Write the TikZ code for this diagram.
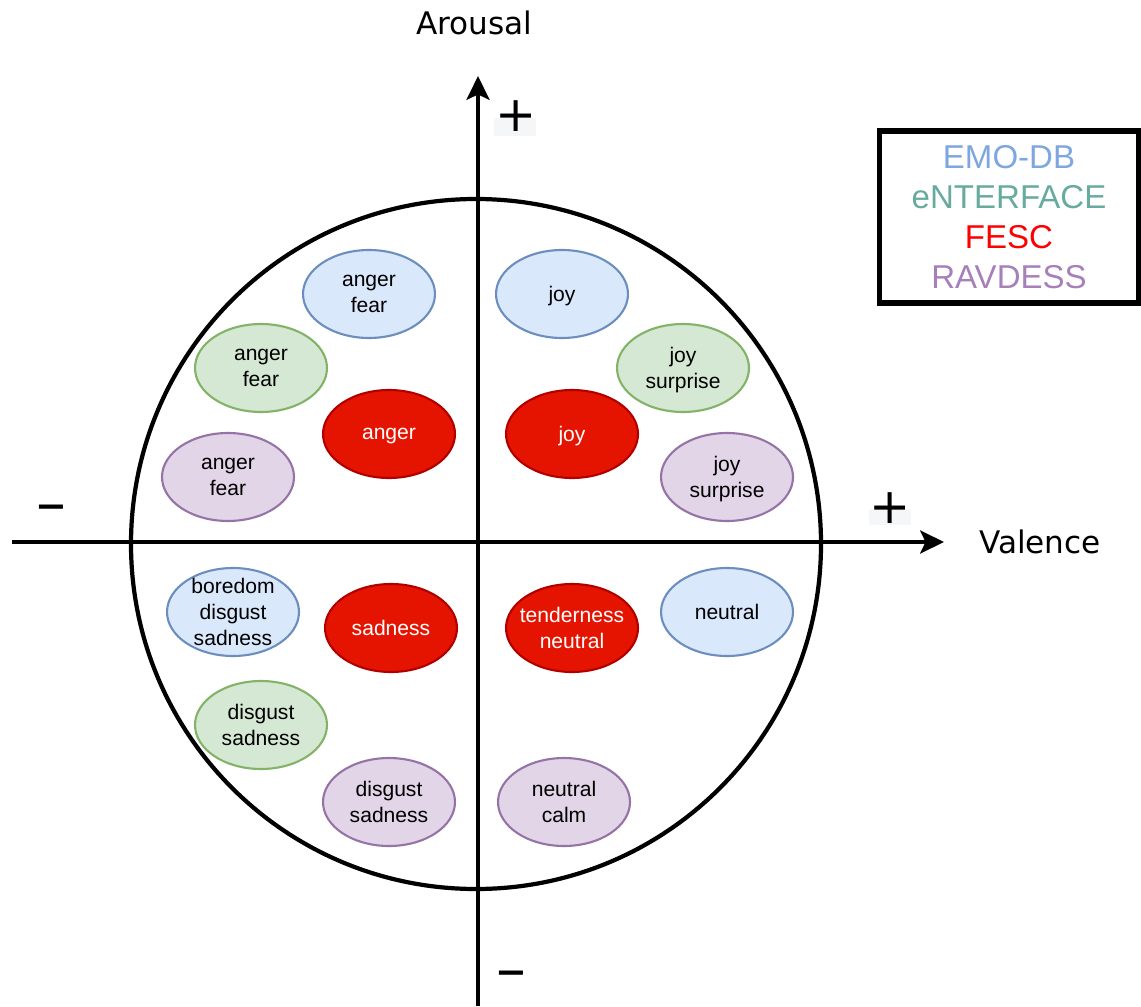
\documentclass[tikz,border=0pt]{standalone}
\usepackage{fontspec}
\setmainfont{Liberation Sans}
\newfontfamily\axisfont{DejaVu Sans}
\usetikzlibrary{arrows.meta,shapes.geometric}
\definecolor{bluefill}{HTML}{DAE8FC}
\definecolor{bluedraw}{HTML}{6C8EBF}
\definecolor{greenfill}{HTML}{D5E8D4}
\definecolor{greendraw}{HTML}{82B366}
\definecolor{redfill}{HTML}{E51400}
\definecolor{reddraw}{HTML}{B20000}
\definecolor{purplefill}{HTML}{E1D5E7}
\definecolor{purpledraw}{HTML}{9673A6}
\definecolor{emodb}{HTML}{7EA6E0}
\definecolor{enterface}{HTML}{67AB9F}
\definecolor{fesc}{HTML}{FF0000}
\definecolor{ravdess}{HTML}{A680B8}
\definecolor{signbg}{HTML}{F5F6F8}

\begin{document}
\begin{tikzpicture}[x=0.02cm,y=-0.02cm,
  emo/.style={ellipse,line width=1.2pt,minimum width=2.64cm,minimum height=1.76cm,
    inner sep=-6pt,align=center,text depth=0pt,font=\fontsize{12}{14.7}\selectfont},
  emodbbox/.style={emo,draw=bluedraw,fill=bluefill},
  enterbox/.style={emo,draw=greendraw,fill=greenfill},
  fescbox/.style={emo,draw=reddraw,fill=redfill,text=white},
  ravbox/.style={emo,draw=purpledraw,fill=purplefill},
  axis/.style={line width=2.5pt,-{Stealth[length=13.5pt,width=13pt,inset=3pt]}},
  sign/.style={anchor=base,font=\axisfont\fontsize{28}{30}\selectfont},
  minus/.style={anchor=base,font=\axisfont\fontsize{34}{36}\selectfont},
  axislabel/.style={anchor=base,font=\axisfont\fontsize{17.7}{20}\selectfont}]
\useasboundingbox (0,0) rectangle (1141,1006);

\fill[signbg] (494,118) rectangle (536,136);
\fill[signbg] (869,509) rectangle (911,525);

\draw[line width=2.4pt] (476,544) circle (345);

\coordinate (vstart) at (478,1006);
\coordinate (vend) at (478,76);
\coordinate (hstart) at (12,542);
\coordinate (hend) at (944,542);
\draw[axis] (vstart) -- (vend);
\draw[axis] (hstart) -- (hend);

\node[axislabel] (arousal) at (474,35) {Arousal};
\node[axislabel] (valence) at (1040,553) {Valence};
\node[sign] (aplus) at (516,132) {+};
\node[sign] (vplus) at (890,523) {+};
\node[minus] (vminus) at (51,523) {–};
\node[minus] (aminus) at (511,989) {–};

\node[emodbbox] (eangerfear) at (369,294) {anger\\fear};
\node[enterbox] (nangerfear) at (261,368) {anger\\fear};
\node[fescbox] (fanger) at (389,434) {anger};
\node[ravbox] (rangerfear) at (228,477) {anger\\fear};

\node[emodbbox] (ejoy) at (562,294) {joy};
\node[enterbox] (njoysurprise) at (683,368) {joy\\surprise};
\node[fescbox] (fjoy) at (572,434) {joy};
\node[ravbox] (rjoysurprise) at (727,477) {joy\\surprise};

\node[emodbbox] (ebored) at (233,612) {boredom\\disgust\\sadness};
\node[fescbox] (fsadness) at (391,628) {sadness};
\node[enterbox] (ndisgust) at (261,725) {disgust\\sadness};
\node[ravbox] (rdisgust) at (389,802) {disgust\\sadness};

\node[fescbox] (ftender) at (572,628) {tenderness\\neutral};
\node[emodbbox] (eneutral) at (727,612) {neutral};
\node[ravbox] (rneutral) at (564,802) {neutral\\calm};

\node[draw,line width=3pt,minimum width=5.18cm,minimum height=3.44cm,align=center,
  font=\fontsize{18.8}{22.7}\selectfont] (legend) at (1009,217)
  {\color{emodb}EMO-DB\\\color{enterface}eNTERFACE\\\color{fesc}FESC\\\color{ravdess}RAVDESS};
\end{tikzpicture}
\end{document}
